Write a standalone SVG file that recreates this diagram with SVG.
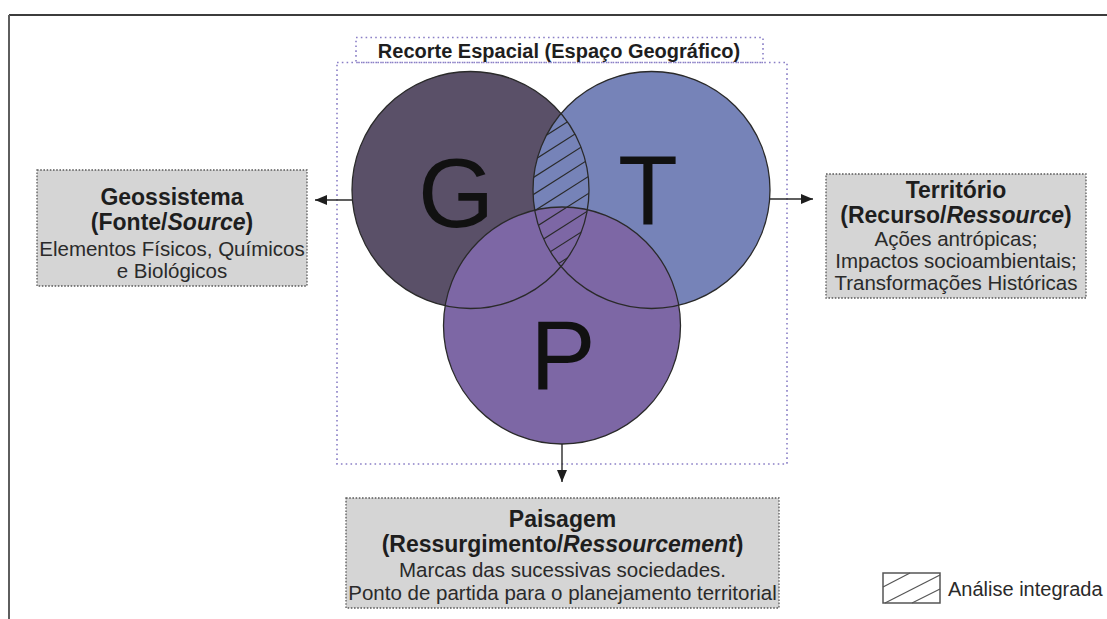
<svg xmlns="http://www.w3.org/2000/svg" width="1107" height="619" viewBox="0 0 1107 619">
<style>
text{font-family:"Liberation Sans",Arial,sans-serif;fill:#1e1e1e}
.h{font-size:23px;font-weight:bold;text-anchor:middle}
.b{font-size:20.5px;text-anchor:middle;fill:#2a2a2a}
.big{font-size:98px;text-anchor:middle;fill:#111}
.box{fill:#d5d5d5;stroke:#5a5a5a;stroke-width:1.3;stroke-dasharray:1.6 1.6}
.pdot{fill:none;stroke:#8a7fc6;stroke-width:1.6;stroke-dasharray:1.6 3.2}
.circ{stroke:#2a2a2a;stroke-width:1.3}
.hatch{stroke:#2a2a2a;stroke-width:1.1}
.conn{stroke:#2a2a2a;stroke-width:1.4;fill:none;marker-end:url(#arr)}
</style>
<defs>
<marker id="arr" viewBox="0 0 12 10" refX="12" refY="5" markerWidth="12" markerHeight="10" orient="auto" markerUnits="userSpaceOnUse"><path d="M0,0 L12,5 L0,10 z" fill="#1e1e1e"/></marker>
<clipPath id="clipG"><circle cx="470.5" cy="190" r="118.5"/></clipPath>
<clipPath id="clipT"><circle cx="651.5" cy="190" r="118.5"/></clipPath>
</defs>
<rect width="1107" height="619" fill="#fff"/>
<g id="frame">
<line x1="9" y1="15" x2="1107" y2="15" stroke="#3c3c3c" stroke-width="2"/>
<line x1="9" y1="15" x2="9" y2="619" stroke="#5e5e5e" stroke-width="2"/>
</g>
<g id="recorte">
<rect class="pdot" x="337" y="62.5" width="450" height="401.5"/>
<rect class="pdot" x="356" y="37.5" width="407" height="25"/>
<text x="559" y="58" style="font-size:20px;font-weight:bold;text-anchor:middle">Recorte Espacial (Espaço Geográfico)</text>
</g>
<g id="circles">
<circle id="circleG" cx="470.5" cy="190" r="118.5" fill="#5a5068"/>
<circle id="circleT" cx="651.5" cy="190" r="118.5" fill="#7683b8"/>
<circle id="circleP" cx="562" cy="325.5" r="118.5" fill="#7d67a5"/>
<g clip-path="url(#clipG)"><g clip-path="url(#clipT)">
<g class="hatch">
<line x1="520" y1="118" x2="605" y2="64"/>
<line x1="520" y1="135" x2="605" y2="81"/>
<line x1="520" y1="152" x2="605" y2="98"/>
<line x1="520" y1="169" x2="605" y2="115"/>
<line x1="520" y1="186" x2="605" y2="132"/>
<line x1="520" y1="203" x2="605" y2="149"/>
<line x1="520" y1="220" x2="605" y2="166"/>
<line x1="520" y1="237" x2="605" y2="183"/>
<line x1="520" y1="254" x2="605" y2="200"/>
<line x1="520" y1="271" x2="605" y2="217"/>
<line x1="520" y1="288" x2="605" y2="234"/>
<line x1="520" y1="305" x2="605" y2="251"/>
<line x1="520" y1="322" x2="605" y2="268"/>
</g>
</g></g>
<circle class="circ" cx="470.5" cy="190" r="118.5" fill="none"/>
<circle class="circ" cx="651.5" cy="190" r="118.5" fill="none"/>
<circle class="circ" cx="562" cy="325.5" r="118.5" fill="none"/>
<text class="big" x="456" y="227">G</text>
<text class="big" x="648" y="224">T</text>
<text class="big" x="563" y="389">P</text>
</g>
<g id="connectors">
<line class="conn" x1="352" y1="200" x2="315" y2="200"/>
<line class="conn" x1="770" y1="199" x2="813" y2="199"/>
<line class="conn" x1="562" y1="444" x2="562" y2="482"/>
</g>
<g id="geossistema">
<rect class="box" x="37" y="170" width="270" height="116"/>
<text class="h" x="172" y="205">Geossistema</text>
<text class="h" x="172" y="230">(Fonte/<tspan font-style="italic">Source</tspan>)</text>
<text class="b" x="172" y="256">Elementos Físicos, Químicos</text>
<text class="b" x="172" y="278">e Biológicos</text>
</g>
<g id="territorio">
<rect class="box" x="826" y="174" width="260" height="124"/>
<text class="h" x="956" y="198">Território</text>
<text class="h" x="956" y="223">(Recurso/<tspan font-style="italic">Ressource</tspan>)</text>
<text class="b" x="956" y="246">Ações antrópicas;</text>
<text class="b" x="956" y="268">Impactos socioambientais;</text>
<text class="b" x="956" y="290">Transformações Históricas</text>
</g>
<g id="paisagem">
<rect class="box" x="346" y="498" width="433" height="110"/>
<text class="h" x="562.5" y="527">Paisagem</text>
<text class="h" x="562.5" y="552">(Ressurgimento/<tspan font-style="italic">Ressourcement</tspan>)</text>
<text class="b" x="562.5" y="577">Marcas das sucessivas sociedades.</text>
<text class="b" x="562.5" y="600">Ponto de partida para o planejamento territorial</text>
</g>
<g id="legend">
<rect x="883" y="573" width="57" height="30" fill="#fff" stroke="#555" stroke-width="1.5"/>
<line x1="883" y1="587" x2="910" y2="573" stroke="#555" stroke-width="1.2"/>
<line x1="885" y1="603" x2="940" y2="575" stroke="#555" stroke-width="1.2"/>
<line x1="912" y1="603" x2="940" y2="589" stroke="#555" stroke-width="1.2"/>
<text x="948" y="596" style="font-size:20px;fill:#2a2a2a">Análise integrada</text>
</g>
</svg>
